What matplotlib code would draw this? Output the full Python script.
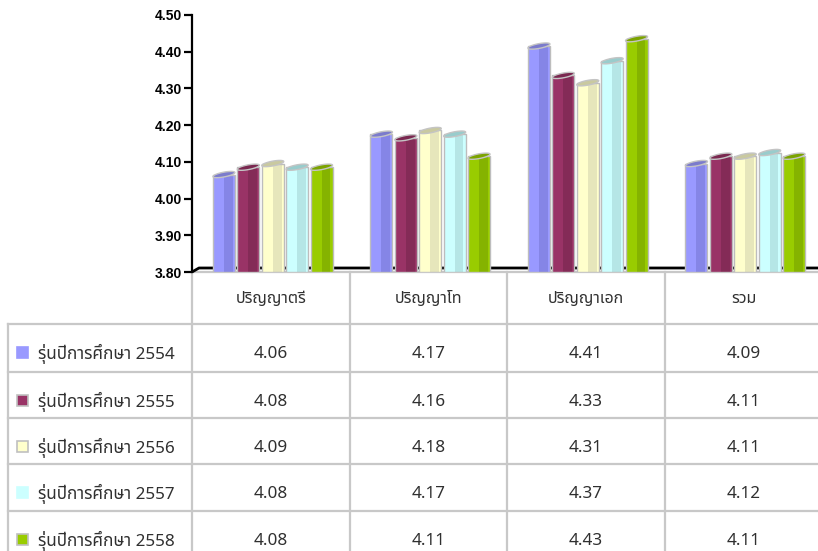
import matplotlib
matplotlib.use("Agg")
import matplotlib.pyplot as plt
import numpy as np

# ---------------- data ----------------
categories = ["ปริญญาตรี", "ปริญญาโท", "ปริญญาเอก", "รวม"]
series_names = ["รุ่นปีการศึกษา 2554", "รุ่นปีการศึกษา 2555", "รุ่นปีการศึกษา 2556",
                "รุ่นปีการศึกษา 2557", "รุ่นปีการศึกษา 2558"]
v2554 = [4.06, 4.17, 4.41, 4.09]
v2555 = [4.08, 4.16, 4.33, 4.11]
v2556 = [4.09, 4.18, 4.31, 4.11]
v2557 = [4.08, 4.17, 4.37, 4.12]
v2558 = [4.08, 4.11, 4.43, 4.11]
series_values = [v2554, v2555, v2556, v2557, v2558]
yticks = [3.80, 3.90, 4.00, 4.10, 4.20, 4.30, 4.40, 4.50]

# ---------------- style ----------------
face_light = ["#9999ff", "#993366", "#ffffcc", "#ccffff", "#99cc00"]
face_dark = ["#8585e6", "#842b57", "#e6e6bb", "#b5e6e6", "#85b300"]
cap_col = ["#7b7bcc", "#7a2850", "#c9c9a0", "#99cccc", "#7ba300"]
legend_edge = ["#9999ff", "#c0c0c0", "#c0c0c0", "#ccffff", "#c0c0c0"]
grid_col = "#c8c8c8"
txt_col = "#303030"
thai = ["Noto Sans", "Noto Sans Thai"]

W, H = 818, 551
fig = plt.figure(figsize=(W / 100, H / 100), dpi=100)

# ---------------- table (pixel space axes) ----------------
tab = fig.add_axes([0, 0, 1, 1])
tab.set_xlim(0, W)
tab.set_ylim(H, 0)
tab.axis("off")

col_edges = [192, 350, 507, 665, 822]
row_edges = [324, 372, 418, 464, 511, 560]
lw_grid = 1.6
tab.plot([192, W], [272, 272], color=grid_col, lw=lw_grid)
for xe in col_edges[:-1]:
    tab.plot([xe, xe], [272, H], color=grid_col, lw=lw_grid)
tab.plot([8, 8], [row_edges[0], H], color=grid_col, lw=lw_grid)
for ye in row_edges[:-1]:
    tab.plot([8, W], [ye, ye], color=grid_col, lw=lw_grid)

for j, c in enumerate(categories):
    xc = (col_edges[j] + col_edges[j + 1]) / 2
    tab.text(xc, 299, c, ha="center", va="center", fontsize=11.5,
             color=txt_col, family=thai)

for i, name in enumerate(series_names):
    yc = row_edges[i] + 30
    tab.add_patch(plt.Rectangle((17, yc - 7), 11, 11, facecolor=face_light[i],
                                edgecolor=legend_edge[i], lw=1.2))
    tab.text(38, yc, name, ha="left", va="center", fontsize=12.3,
             color=txt_col, family=thai)
    for j in range(len(categories)):
        xc = (col_edges[j] + col_edges[j + 1]) / 2
        tab.text(xc, yc, "%.2f" % series_values[i][j], ha="center", va="center",
                 fontsize=12.3, color=txt_col, family=thai)

# ---------------- chart ----------------
ax_left, ax_right, ax_top, ax_bot = 192, 822, 15, 272
ax = fig.add_axes([ax_left / W, 1 - ax_bot / H, (ax_right - ax_left) / W,
                   (ax_bot - ax_top) / H])
ax.patch.set_alpha(0)
ncat = len(categories)
ax.set_xlim(-0.5, ncat - 0.5)
ax.set_ylim(yticks[0], yticks[-1])
for s in ["top", "right", "bottom"]:
    ax.spines[s].set_visible(False)
ax.spines["left"].set_linewidth(1.6)
ax.set_xticks([])
ax.set_yticks(yticks)
ax.set_yticklabels(["%.2f" % t for t in yticks], fontsize=10,
                   fontweight="bold", family="Liberation Sans")
ax.tick_params(axis="y", direction="out", length=6, width=1.6, pad=1.5)

px_x = (ncat) / (ax_right - ax_left)
px_y = (yticks[-1] - yticks[0]) / (ax_bot - ax_top)

# floor
x0 = -0.5
ax.plot([x0, x0 + 7 * px_x, ncat - 0.5], [3.80, 3.80 + 4 * px_y, 3.80 + 4 * px_y],
        color="black", lw=2, clip_on=False, zorder=1, solid_capstyle="butt")

slot = 24.4 * px_x
bw = 22 * px_x
shift = 2 * px_x
cats = np.arange(ncat)
base = yticks[0]
t = np.linspace(0, 2 * np.pi, 60)
for i, vals in enumerate(series_values):
    xs = cats + (i - 2) * slot + shift
    vals = np.array(vals)
    tops = vals + 2 * px_y
    ax.bar(xs, tops - base, bottom=base, width=bw, color=face_light[i],
           lw=0, zorder=3)
    ax.bar(xs + bw * 0.2, tops - base, bottom=base, width=bw * 0.4,
           color=face_dark[i], lw=0, zorder=3)
    ax.bar(xs, tops - base, bottom=base, width=bw, fill=False,
           edgecolor="#bdbdbd", lw=1.0, zorder=4)
    for xc, v in zip(xs, vals):
        ex = xc + (bw / 2) * np.cos(t)
        ey = v + 2 * px_y + 2 * px_y * np.cos(t) + 2.4 * px_y * np.sin(t)
        ax.fill(ex, ey, facecolor=cap_col[i], edgecolor="#c4c4c4", lw=1.0,
                zorder=5, clip_on=False)

fig.savefig("out.png", dpi=100)
